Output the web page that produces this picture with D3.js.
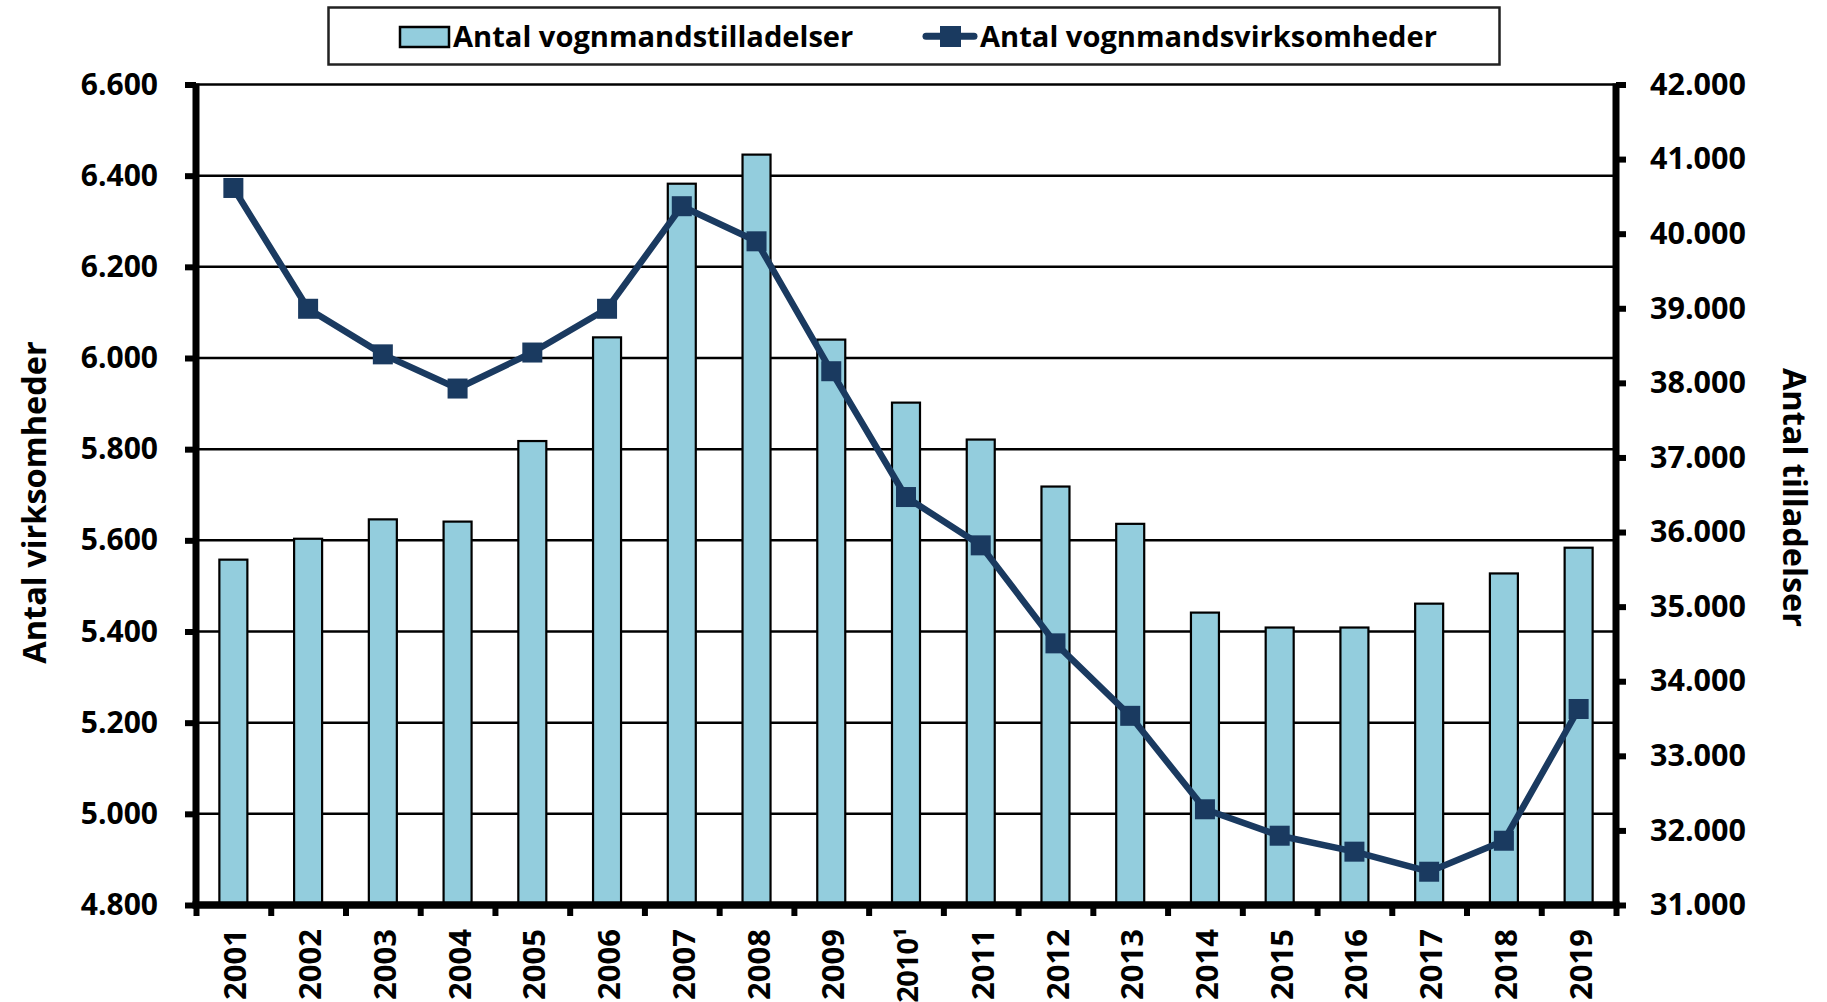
<!DOCTYPE html>
<html>
<head>
<meta charset="utf-8">
<script src="https://cdn.jsdelivr.net/npm/d3@7"></script>
<style>
  html, body { margin: 0; padding: 0; background: #fff; }
  svg { display: block; }
</style>
</head>
<body>
<svg id="chart" width="1827" height="1002"></svg>
<script>
// ---------- DATA ----------
const categories = ["2001","2002","2003","2004","2005","2006","2007","2008","2009","2010\u00B9",
                    "2011","2012","2013","2014","2015","2016","2017","2018","2019"];
// Antal vognmandstilladelser (bars, right axis)
const tilladelser = [35630, 35910, 36170, 36140, 37220, 38610, 40670, 41060, 38580, 37735,
                     37240, 36610, 36110, 34920, 34720, 34720, 35040, 35445, 35790];
// Antal vognmandsvirksomheder (line, left axis)
const virksomheder = [6373, 6108, 6008, 5933, 6012, 6108, 6333, 6256, 5971, 5695,
                      5589, 5374, 5215, 5010, 4952, 4917, 4873, 4941, 5230];
const leftTicks = [4800, 5000, 5200, 5400, 5600, 5800, 6000, 6200, 6400, 6600];
const rightTicks = [31000, 32000, 33000, 34000, 35000, 36000, 37000, 38000, 39000, 40000, 41000, 42000];
const seriesNames = ["Antal vognmandstilladelser", "Antal vognmandsvirksomheder"];
const leftTitle = "Antal virksomheder";
const rightTitle = "Antal tilladelser";

// ---------- STYLE ----------
const barColor = "#93CDDD";
const lineColor = "#1A3A60";
const mainFont = "'Open Sans', Lato, sans-serif";

const L = 196, R = 1616, T = 84.5, B = 905;

const locale = d3.formatLocale({decimal: ",", thousands: ".", grouping: [3], currency: ["", " kr"]});
const fmt = locale.format(",");

const svg = d3.select("#chart");

const x = d3.scaleBand().domain(categories).range([L, R]).paddingInner(0).paddingOuter(0);
const xIdx = d3.scaleLinear().domain([0, categories.length]).range([L, R]);
const yL = d3.scaleLinear().domain([4800, 6600]).range([B, T]);
const yR = d3.scaleLinear().domain([31000, 42000]).range([B, T]);

// gridlines
svg.append("g")
  .selectAll("line").data(leftTicks.slice(1)).join("line")
  .attr("x1", L).attr("x2", R)
  .attr("y1", d => yL(d)).attr("y2", d => yL(d))
  .attr("stroke", "#000").attr("stroke-width", 2.5);

// bars
const barW = 28;
svg.append("g")
  .selectAll("rect").data(tilladelser).join("rect")
  .attr("x", (d, i) => x(categories[i]) + x.bandwidth() / 2 - barW / 2)
  .attr("width", barW)
  .attr("y", d => yR(d))
  .attr("height", d => B - yR(d))
  .attr("fill", barColor)
  .attr("stroke", "#000").attr("stroke-width", 2.2);

// left axis
const gL = svg.append("g").attr("transform", `translate(${L},0)`)
  .call(d3.axisLeft(yL).tickValues(leftTicks).tickFormat(fmt).tickSizeInner(11).tickSizeOuter(0).tickPadding(27));
gL.select(".domain").attr("stroke", "#000").attr("stroke-width", 7).attr("d", `M0,${T - 1}V${B + 3}`);
gL.selectAll(".tick line").attr("stroke", "#000").attr("stroke-width", 6);
gL.selectAll(".tick text").attr("font-family", mainFont).attr("font-weight", "bold")
  .attr("font-size", 30).attr("fill", "#000");

// right axis
const gR = svg.append("g").attr("transform", `translate(${R},0)`)
  .call(d3.axisRight(yR).tickValues(rightTicks).tickFormat(fmt).tickSizeInner(10).tickSizeOuter(0).tickPadding(24));
gR.select(".domain").attr("stroke", "#000").attr("stroke-width", 7).attr("d", `M0,${T - 1}V${B + 3}`);
gR.selectAll(".tick line").attr("stroke", "#000").attr("stroke-width", 6);
gR.selectAll(".tick text").attr("font-family", mainFont).attr("font-weight", "bold")
  .attr("font-size", 30.5).attr("fill", "#000");

// bottom axis: boundary ticks
const gBt = svg.append("g").attr("transform", `translate(0,${B})`)
  .call(d3.axisBottom(xIdx).tickValues(d3.range(categories.length + 1)).tickFormat("").tickSizeInner(11).tickSizeOuter(0));
gBt.select(".domain").attr("stroke", "#000").attr("stroke-width", 7.5).attr("d", `M${L - 3.5},0H${R + 3.5}`);
gBt.selectAll(".tick line").attr("stroke", "#000").attr("stroke-width", 6);

// bottom axis: labels
const gB = svg.append("g").attr("transform", `translate(0,${B})`)
  .call(d3.axisBottom(x).tickSize(0).tickPadding(0));
gB.select(".domain").remove();
gB.selectAll(".tick text")
  .attr("font-family", mainFont).attr("font-weight", "bold").attr("font-size", 31).attr("fill", "#000")
  .attr("transform", "rotate(-90)")
  .attr("text-anchor", "end")
  .attr("x", -24).attr("y", 2).attr("dy", "0.357em");
// the footnoted label is a little longer; tighten it so it stays inside the picture
gB.selectAll(".tick text").filter(d => d.length > 4)
  .attr("font-size", 29).attr("letter-spacing", -0.5).attr("x", -23);

// line
const line = d3.line().x((d, i) => x(categories[i]) + x.bandwidth() / 2).y(d => yL(d));
svg.append("path").datum(virksomheder)
  .attr("d", line).attr("fill", "none")
  .attr("stroke", lineColor).attr("stroke-width", 6.5).attr("stroke-linejoin", "round");
const ms = 20;
svg.append("g").selectAll("rect").data(virksomheder).join("rect")
  .attr("x", (d, i) => x(categories[i]) + x.bandwidth() / 2 - ms / 2)
  .attr("y", d => yL(d) - ms / 2)
  .attr("width", ms).attr("height", ms)
  .attr("fill", lineColor);

// axis titles
svg.append("text")
  .attr("transform", "translate(46,502.5) rotate(-90)")
  .attr("text-anchor", "middle")
  .attr("font-family", mainFont).attr("font-weight", "bold").attr("font-size", 32.5).attr("fill", "#000")
  .text(leftTitle);
svg.append("text")
  .attr("transform", "translate(1783,497.5) rotate(90)")
  .attr("text-anchor", "middle")
  .attr("font-family", mainFont).attr("font-weight", "bold").attr("font-size", 32.5).attr("fill", "#000")
  .text(rightTitle);

// legend
const lg = svg.append("g");
lg.append("rect").attr("x", 328.5).attr("y", 7.5).attr("width", 1171).attr("height", 57)
  .attr("fill", "#fff").attr("stroke", "#222").attr("stroke-width", 2.5);
lg.append("rect").attr("x", 400).attr("y", 27).attr("width", 49).attr("height", 20)
  .attr("fill", barColor).attr("stroke", "#000").attr("stroke-width", 2.5);
lg.append("text").attr("x", 453).attr("y", 46.5)
  .attr("font-family", mainFont).attr("font-weight", "bold").attr("font-size", 29.1).attr("fill", "#000")
  .text(seriesNames[0]);
lg.append("line").attr("x1", 926).attr("x2", 974).attr("y1", 36.2).attr("y2", 36.2)
  .attr("stroke", lineColor).attr("stroke-width", 7).attr("stroke-linecap", "round");
lg.append("rect").attr("x", 940).attr("y", 26).attr("width", 21).attr("height", 21).attr("fill", lineColor);
lg.append("text").attr("x", 980).attr("y", 46.5)
  .attr("font-family", mainFont).attr("font-weight", "bold").attr("font-size", 29.1).attr("fill", "#000")
  .text(seriesNames[1]);
</script>
</body>
</html>
